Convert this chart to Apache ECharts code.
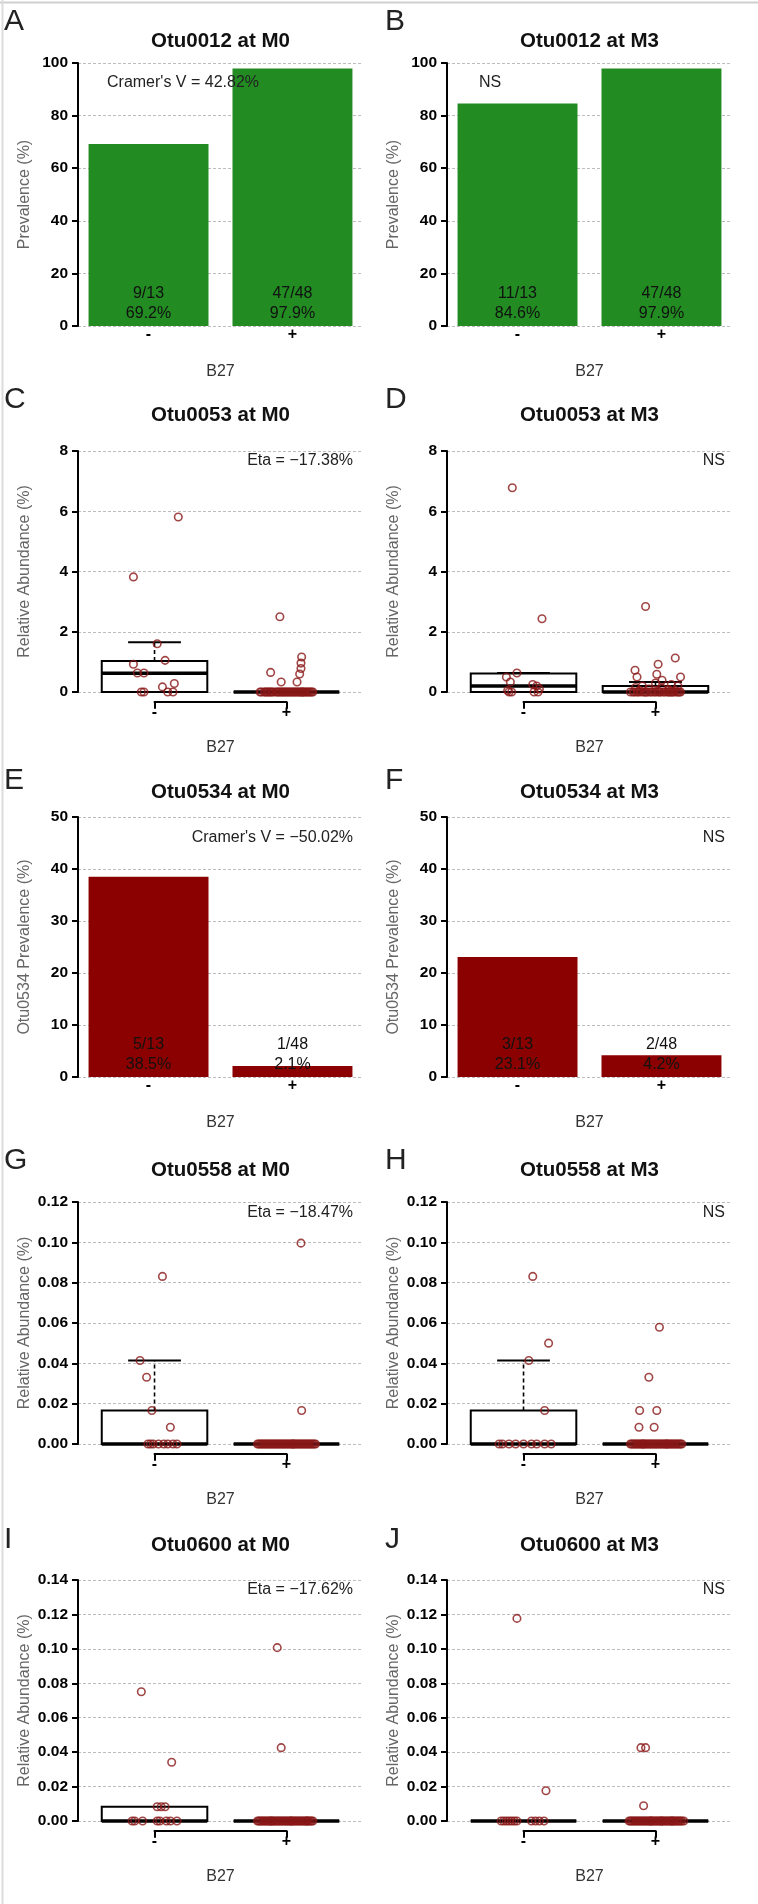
<!DOCTYPE html>
<html>
<head>
<meta charset="utf-8">
<script src="https://cdn.jsdelivr.net/npm/echarts@6/dist/echarts.min.js"></script>
<style>
html,body{margin:0;padding:0;background:#fff;}
#main{width:758px;height:1904px;}
</style>
</head>
<body>
<div id="main"></div>
<script>
// ---------------- DATA ----------------
const GROUPS = ['-', '+'];

// tick labels
const ticksPrev100 = [0, 20, 40, 60, 80, 100];
const ticksPrev50 = [0, 10, 20, 30, 40, 50];
const ticksAbund8 = [0, 2, 4, 6, 8];
const ticksAbund012 = [0, 0.02, 0.04, 0.06, 0.08, 0.10, 0.12];
const ticksAbund014 = [0, 0.02, 0.04, 0.06, 0.08, 0.10, 0.12, 0.14];

// prevalence bars (%), and counts
const otu0012M0Prev = [69.2, 97.9];
const otu0012M0Counts = ['9/13', '47/48'];
const otu0012M3Prev = [84.6, 97.9];
const otu0012M3Counts = ['11/13', '47/48'];
const otu0534M0Prev = [38.5, 2.1];
const otu0534M0Counts = ['5/13', '1/48'];
const otu0534M3Prev = [23.1, 4.2];
const otu0534M3Counts = ['3/13', '2/48'];

// box statistics per group: [lower whisker, Q1, median, Q3, upper whisker]
const otu0053M0Box = [[0, 0, 0.62, 1.03, 1.65], [0, 0, 0, 0, 0]];
const otu0053M3Box = [[0, 0, 0.20, 0.61, 0.63], [0, 0, 0, 0.20, 0.33]];
const otu0558M0Box = [[0, 0, 0, 0.0166, 0.0414], [0, 0, 0, 0, 0]];
const otu0558M3Box = [[0, 0, 0, 0.0166, 0.0414], [0, 0, 0, 0, 0]];
const otu0600M0Box = [[0, 0, 0, 0.0083, 0.0083], [0, 0, 0, 0, 0]];
const otu0600M3Box = [[0, 0, 0, 0, 0], [0, 0, 0, 0, 0]];

// individual samples: [jitter (group units), relative abundance %]; zero samples listed by jitter only
const otu0053M0Minus = [[-0.16,3.82],[0.18,5.81],[0.02,1.60],[0.08,1.05],[-0.16,0.92],[-0.13,0.63],[-0.08,0.63],[0.06,0.17],[0.15,0.28]];
const otu0053M0MinusZeros = [-0.10,-0.08,0.10,0.14];
const otu0053M0Plus = [[-0.05,2.50],[-0.12,0.65],[0.115,1.16],[0.11,0.96],[0.11,0.78],[0.10,0.60],[-0.04,0.33],[0.08,0.33]];
const otu0053M0PlusZeros = [-0.20,-0.19,-0.17,-0.16,-0.15,-0.14,-0.12,-0.11,-0.10,-0.08,-0.07,-0.06,-0.05,-0.03,-0.02,-0.01,0.00,0.01,0.03,0.04,0.05,0.06,0.08,0.09,0.10,0.11,0.12,0.13,0.14,0.15,0.16,0.17,0.18,0.19,0.20,-0.13,-0.04,0.02,0.07,0.12];

const otu0053M3Minus = [[-0.085,6.78],[0.14,2.43],[-0.05,0.63],[-0.13,0.50],[-0.10,0.33],[0.07,0.25],[0.10,0.20],[0.12,0.10],[-0.12,0.05]];
const otu0053M3MinusZeros = [-0.11,-0.09,0.08,0.11];
const otu0053M3Plus = [[-0.075,2.84],[0.15,1.13],[0.02,0.92],[-0.155,0.72],[0.01,0.59],[-0.14,0.50],[0.19,0.50],[0.05,0.39],[0.0,0.30],[0.12,0.25],[-0.10,0.20],[0.17,0.20],[-0.15,0.15],[0.05,0.12],[-0.05,0.10],[0.10,0.08],[0.15,0.05],[-0.12,0.05],[0.02,0.03]];
const otu0053M3PlusZeros = [-0.19,-0.17,-0.16,-0.14,-0.13,-0.11,-0.09,-0.08,-0.06,-0.04,-0.03,-0.01,0.00,0.02,0.03,0.04,0.06,0.07,0.09,0.10,0.11,0.13,0.14,0.16,0.17,0.18,0.19,-0.07,0.12];

const otu0558M0Minus = [[-0.11,0.0414],[-0.06,0.0331],[-0.02,0.0166],[0.12,0.0083],[0.06,0.0831]];
const otu0558M0MinusZeros = [-0.05,-0.03,-0.01,0.03,0.07,0.10,0.14,0.17];
const otu0558M0Plus = [[0.11,0.0996],[0.115,0.0166]];
const otu0558M0PlusZeros = [-0.22,-0.21,-0.20,-0.19,-0.18,-0.17,-0.16,-0.15,-0.14,-0.13,-0.12,-0.11,-0.10,-0.09,-0.08,-0.07,-0.06,-0.05,-0.04,-0.03,-0.02,-0.01,0.00,0.01,0.02,0.03,0.04,0.05,0.06,0.07,0.08,0.09,0.10,0.11,0.12,0.13,0.14,0.15,0.16,0.17,0.18,0.19,0.20,0.21,0.22,0.05];

const otu0558M3Minus = [[0.07,0.0831],[0.19,0.05],[0.04,0.0414],[0.16,0.0166]];
const otu0558M3MinusZeros = [-0.185,-0.16,-0.11,-0.06,0.0,0.06,0.10,0.16,0.21];
const otu0558M3Plus = [[0.03,0.0579],[-0.05,0.0331],[-0.12,0.0166],[0.01,0.0166],[-0.125,0.0083],[-0.01,0.0083]];
const otu0558M3PlusZeros = [-0.19,-0.18,-0.17,-0.16,-0.15,-0.14,-0.13,-0.12,-0.11,-0.10,-0.09,-0.08,-0.07,-0.06,-0.05,-0.04,-0.03,-0.02,-0.01,0.00,0.01,0.02,0.03,0.04,0.05,0.06,0.07,0.08,0.09,0.10,0.11,0.12,0.13,0.14,0.15,0.16,0.17,0.18,0.19,0.20,-0.095,0.085];

const otu0600M0Minus = [[-0.10,0.0751],[0.13,0.0341],[0.02,0.0083],[0.05,0.0083],[0.08,0.0083]];
const otu0600M0MinusZeros = [-0.17,-0.15,-0.09,0.02,0.04,0.09,0.12,0.17];
const otu0600M0Plus = [[-0.07,0.1007],[-0.04,0.0426]];
const otu0600M0PlusZeros = [-0.22,-0.21,-0.20,-0.19,-0.18,-0.17,-0.16,-0.15,-0.14,-0.13,-0.12,-0.11,-0.10,-0.09,-0.08,-0.07,-0.06,-0.05,-0.04,-0.03,-0.02,-0.01,0.00,0.01,0.02,0.03,0.04,0.05,0.06,0.07,0.08,0.09,0.10,0.11,0.12,0.13,0.14,0.15,0.16,0.17,0.18,0.19,0.20,-0.115,0.035,0.155];

const otu0600M3Minus = [[-0.05,0.1177],[0.17,0.0176]];
const otu0600M3MinusZeros = [-0.17,-0.15,-0.13,-0.11,-0.09,-0.07,-0.05,0.06,0.09,0.12,0.155];
const otu0600M3Plus = [[-0.11,0.0426],[-0.075,0.0426],[-0.09,0.0089]];
const otu0600M3PlusZeros = [-0.20,-0.19,-0.18,-0.17,-0.16,-0.15,-0.14,-0.13,-0.12,-0.11,-0.10,-0.09,-0.08,-0.07,-0.06,-0.05,-0.04,-0.03,-0.02,-0.01,0.00,0.01,0.02,0.03,0.04,0.05,0.06,0.07,0.08,0.09,0.10,0.11,0.12,0.13,0.14,0.15,0.16,0.17,0.18,0.19,0.20,0.215,-0.035,0.045,0.125];

// ---------------- LAYOUT / STYLE ----------------
const FONT = '"Liberation Sans", Arial, Helvetica, sans-serif';
const GREEN = '#228B22', DARKRED = '#8B0000', PT = '#8a1818';
const COL_LEFT = [78, 447];
const PLOT_W = 285;
const ROWS = [
  {axisTop: 63,   zero: 326,  titleY: 41,   letterY: 22,   noteY: 83},
  {axisTop: 451,  zero: 692,  titleY: 415,  letterY: 400,  noteY: 461},
  {axisTop: 817,  zero: 1077, titleY: 792,  letterY: 781,  noteY: 838},
  {axisTop: 1202, zero: 1444, titleY: 1170, letterY: 1161, noteY: 1213},
  {axisTop: 1580, zero: 1821, titleY: 1545, letterY: 1540, noteY: 1590}
];
const XR = {bar: [0.112, 2.488], box: [0.42, 2.58]};
const POS = {bar: [0.7, 1.9], box: [1, 2]};

const panels = [
  {letter:'A', title:'Otu0012 at M0', kind:'bar', col:0, row:0, yName:'Prevalence (%)', ticks:ticksPrev100, dec:0,
   values:otu0012M0Prev, counts:otu0012M0Counts, color:GREEN, note:"Cramer's V = 42.82%", noteX:107, noteAlign:'left'},
  {letter:'B', title:'Otu0012 at M3', kind:'bar', col:1, row:0, yName:'Prevalence (%)', ticks:ticksPrev100, dec:0,
   values:otu0012M3Prev, counts:otu0012M3Counts, color:GREEN, note:'NS', noteX:479, noteAlign:'left'},
  {letter:'C', title:'Otu0053 at M0', kind:'box', col:0, row:1, yName:'Relative Abundance (%)', ticks:ticksAbund8, dec:0,
   box:otu0053M0Box, pts:[[otu0053M0Minus, otu0053M0MinusZeros],[otu0053M0Plus, otu0053M0PlusZeros]], note:'Eta = \u221217.38%', noteX:353, noteAlign:'right'},
  {letter:'D', title:'Otu0053 at M3', kind:'box', col:1, row:1, yName:'Relative Abundance (%)', ticks:ticksAbund8, dec:0,
   box:otu0053M3Box, pts:[[otu0053M3Minus, otu0053M3MinusZeros],[otu0053M3Plus, otu0053M3PlusZeros]], note:'NS', noteX:725, noteAlign:'right'},
  {letter:'E', title:'Otu0534 at M0', kind:'bar', col:0, row:2, yName:'Otu0534 Prevalence (%)', ticks:ticksPrev50, dec:0,
   values:otu0534M0Prev, counts:otu0534M0Counts, color:DARKRED, note:"Cramer's V = \u221250.02%", noteX:353, noteAlign:'right'},
  {letter:'F', title:'Otu0534 at M3', kind:'bar', col:1, row:2, yName:'Otu0534 Prevalence (%)', ticks:ticksPrev50, dec:0,
   values:otu0534M3Prev, counts:otu0534M3Counts, color:DARKRED, note:'NS', noteX:725, noteAlign:'right'},
  {letter:'G', title:'Otu0558 at M0', kind:'box', col:0, row:3, yName:'Relative Abundance (%)', ticks:ticksAbund012, dec:2,
   box:otu0558M0Box, pts:[[otu0558M0Minus, otu0558M0MinusZeros],[otu0558M0Plus, otu0558M0PlusZeros]], note:'Eta = \u221218.47%', noteX:353, noteAlign:'right'},
  {letter:'H', title:'Otu0558 at M3', kind:'box', col:1, row:3, yName:'Relative Abundance (%)', ticks:ticksAbund012, dec:2,
   box:otu0558M3Box, pts:[[otu0558M3Minus, otu0558M3MinusZeros],[otu0558M3Plus, otu0558M3PlusZeros]], note:'NS', noteX:725, noteAlign:'right'},
  {letter:'I', title:'Otu0600 at M0', kind:'box', col:0, row:4, yName:'Relative Abundance (%)', ticks:ticksAbund014, dec:2,
   box:otu0600M0Box, pts:[[otu0600M0Minus, otu0600M0MinusZeros],[otu0600M0Plus, otu0600M0PlusZeros]], note:'Eta = \u221217.62%', noteX:353, noteAlign:'right'},
  {letter:'J', title:'Otu0600 at M3', kind:'box', col:1, row:4, yName:'Relative Abundance (%)', ticks:ticksAbund014, dec:2,
   box:otu0600M3Box, pts:[[otu0600M3Minus, otu0600M3MinusZeros],[otu0600M3Plus, otu0600M3PlusZeros]], note:'NS', noteX:725, noteAlign:'right'}
];

function renderBox(params, api) {
  const x = api.value(0), lo = api.value(1), q1 = api.value(2), md = api.value(3), q3 = api.value(4), hi = api.value(5);
  const half = 0.4, capHalf = 0.2;
  const ch = [];
  const seg = (xa, ya, xb, yb, style) => {
    const p1 = api.coord([xa, ya]), p2 = api.coord([xb, yb]);
    ch.push({type: 'line', shape: {x1: p1[0], y1: p1[1], x2: p2[0], y2: p2[1]}, style: style});
  };
  if (hi > q3) {
    seg(x, q3, x, hi, {stroke: '#000', lineWidth: 1.6, lineDash: [4, 3]});
    seg(x - capHalf, hi, x + capHalf, hi, {stroke: '#000', lineWidth: 2});
  }
  if (lo < q1) {
    seg(x, q1, x, lo, {stroke: '#000', lineWidth: 1.6, lineDash: [4, 3]});
    seg(x - capHalf, lo, x + capHalf, lo, {stroke: '#000', lineWidth: 2});
  }
  const a = api.coord([x - half, q3]), b = api.coord([x + half, q1]);
  ch.push({type: 'rect', shape: {x: a[0], y: a[1], width: b[0] - a[0], height: b[1] - a[1]},
           style: {fill: 'none', stroke: '#000', lineWidth: 2}});
  seg(x - half, md, x + half, md, {stroke: '#000', lineWidth: 3.5});
  return {type: 'group', children: ch};
}

const grids = [], xAxes = [], yAxes = [], series = [], graphics = [];

// figure frame (top and left edges)
graphics.push({type: 'line', shape: {x1: 0, y1: 2.5, x2: 758, y2: 2.5}, style: {stroke: '#cfcfcf', lineWidth: 2}, silent: true});
graphics.push({type: 'line', shape: {x1: 2.5, y1: 0, x2: 2.5, y2: 1904}, style: {stroke: '#dcdcdc', lineWidth: 2}, silent: true});

panels.forEach((p, i) => {
  const left = COL_LEFT[p.col], r = ROWS[p.row];
  const H = r.zero - r.axisTop;
  const xr = XR[p.kind], pos = POS[p.kind];
  const sx = PLOT_W / (xr[1] - xr[0]);
  const gMain = 2 * i, gLab = 2 * i + 1;
  const t = p.ticks;

  grids.push({left: left, top: r.axisTop, width: PLOT_W, height: H});
  xAxes.push({gridIndex: gMain, type: 'value', min: xr[0], max: xr[1], show: false});
  yAxes.push({
    gridIndex: gMain, type: 'value', min: t[0], max: t[t.length - 1], interval: t[1] - t[0],
    axisLine: {show: true, lineStyle: {color: '#000', width: 2}},
    axisTick: {show: true, length: 6, lineStyle: {color: '#000', width: 2}},
    axisLabel: {margin: 10, fontSize: 15.5, fontWeight: 'bold', color: '#000', fontFamily: FONT,
                formatter: v => Number(v).toFixed(p.dec)},
    splitLine: {show: true, lineStyle: {color: '#bdbdbd', width: 1, type: [3, 2]}},
    name: p.yName, nameLocation: 'middle', nameGap: 45,
    nameTextStyle: {fontSize: 16, color: '#666', fontFamily: FONT}
  });

  const lineY = p.kind === 'bar' ? r.zero : r.zero + 0.04 * H;
  const lx0 = left + (pos[0] - xr[0]) * sx, lx1 = left + (pos[1] - xr[0]) * sx;
  grids.push({left: lx0, top: lineY - 10, width: lx1 - lx0, height: 10});
  const isBox = p.kind === 'box';
  xAxes.push({
    gridIndex: gLab, type: 'value', min: 1, max: 2, interval: 1, position: 'bottom',
    axisLine: {show: isBox, lineStyle: {color: '#000', width: 2}},
    axisTick: {show: isBox, length: 7, inside: false, lineStyle: {color: '#000', width: 2}},
    axisLabel: {show: true, margin: isBox ? 3 : 1, fontSize: 16, fontWeight: 'bold', color: '#000', fontFamily: FONT,
                formatter: v => GROUPS[Math.round(v) - 1]},
    splitLine: {show: false},
    name: 'B27', nameLocation: 'middle', nameGap: 38,
    nameTextStyle: {fontSize: 16, color: '#333', fontFamily: FONT}
  });
  yAxes.push({gridIndex: gLab, type: 'value', min: 0, max: 1, show: false});

  if (p.kind === 'bar') {
    series.push({
      type: 'bar', xAxisIndex: gMain, yAxisIndex: gMain, silent: true, animation: false, clip: false,
      data: p.values.map((v, k) => [pos[k], v]),
      barWidth: sx * 1.0,
      itemStyle: {color: p.color},
      label: {show: true, position: 'insideBottom', distance: 2, fontSize: 16, lineHeight: 20, color: '#111',
              fontFamily: FONT, textBorderWidth: 0,
              formatter: prm => p.counts[prm.dataIndex] + '\n' + p.values[prm.dataIndex].toFixed(1) + '%'}
    });
  } else {
    series.push({
      type: 'custom', xAxisIndex: gMain, yAxisIndex: gMain, silent: true, animation: false, clip: false, z: 2,
      data: p.box.map((b, k) => [pos[k]].concat(b)),
      encode: {x: 0, y: [1, 2, 3, 4, 5]},
      renderItem: renderBox
    });
    const pts = [];
    p.pts.forEach((g, k) => {
      g[0].forEach(d => pts.push([pos[k] + d[0], d[1]]));
      g[1].forEach(j => pts.push([pos[k] + j, 0]));
    });
    series.push({
      type: 'scatter', xAxisIndex: gMain, yAxisIndex: gMain, silent: true, animation: false, clip: false, z: 3,
      data: pts, symbol: 'circle', symbolSize: 7.5,
      itemStyle: {color: 'rgba(255,255,255,0)', borderColor: PT, borderWidth: 1.6}
    });
  }

  // panel letter, title, annotation
  graphics.push({type: 'text', x: p.col === 0 ? 4 : 385, y: r.letterY, silent: true,
    style: {text: p.letter, font: '30px ' + FONT, fill: '#222', textAlign: 'left', textVerticalAlign: 'middle'}});
  graphics.push({type: 'text', x: left + PLOT_W / 2, y: r.titleY, silent: true,
    style: {text: p.title, font: 'bold 20.5px ' + FONT, fill: '#111', textAlign: 'center', textVerticalAlign: 'middle'}});
  graphics.push({type: 'text', x: p.noteX, y: r.noteY, silent: true, z: 100,
    style: {text: p.note, font: '16px ' + FONT, fill: '#222', textAlign: p.noteAlign, textVerticalAlign: 'middle'}});
});

const chart = echarts.init(document.getElementById('main'), null, {renderer: 'canvas', width: 758, height: 1904});
chart.setOption({
  backgroundColor: '#fff',
  animation: false,
  textStyle: {fontFamily: FONT},
  grid: grids,
  xAxis: xAxes,
  yAxis: yAxes,
  series: series,
  graphic: {elements: graphics}
});
</script>
</body>
</html>
